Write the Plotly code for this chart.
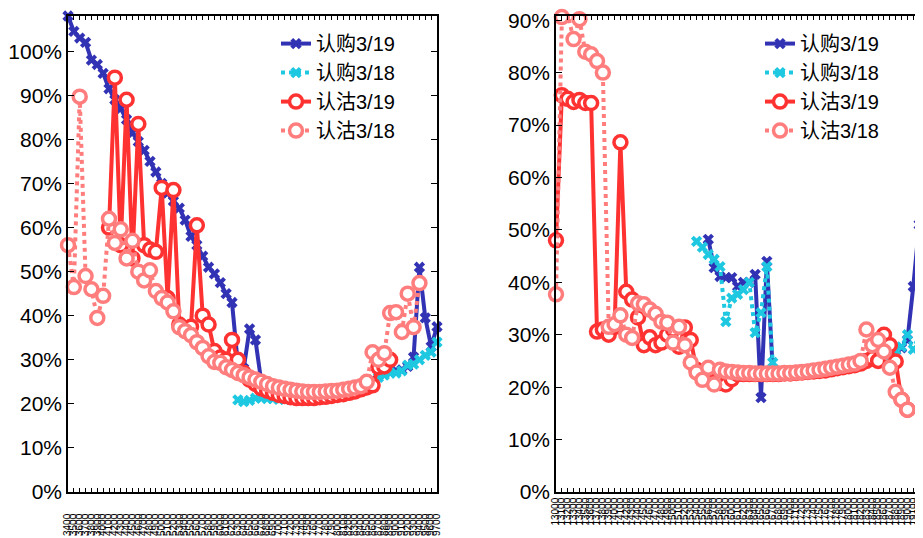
import plotly.graph_objects as go

# ---------------- data ----------------
strikes_left = ["3400","3500","3600","3700","3800","3900","4000","4100","4200","4300",
                "4400","4500","4600","4700","4800","4900","5000","5100","5200","5300",
                "5400","5500","5600","5700","5800","5900","6000","6100","6200","6300",
                "6400","6500","6600","6700","6800","6900","7000","7100","7200","7300",
                "7400","7500","7600","7700","7800","7900","8000","8100","8200","8300",
                "8400","8500","8600","8700","8800","8900","9000","9100","9200","9300",
                "9400","9500","9600","9700"]
strikes_right = ["13000","13100","13200","13300","13400","13500","13600","13700","13800","13900",
                 "14000","14100","14200","14300","14400","14500","14600","14700","14800","14900",
                 "15000","15100","15200","15300","15400","15500","15600","15700","15800","15900",
                 "16000","16100","16200","16300","16400","16500","16600","16700","16800","16900",
                 "17000","17100","17200","17300","17400","17500","17600","17700","17800","17900",
                 "18000","18100","18200","18300","18400","18500","18600","18700","18800","18900",
                 "19000","19100","19200","19300"]

N = None
call_0319_L = [1.08,1.045,1.03,1.02,0.98,0.97,0.95,0.915,0.89,0.87,0.845,0.815,0.795,0.775,0.75,0.726,
               0.70,0.678,0.66,0.644,0.617,0.58,0.56,0.535,0.51,0.495,0.475,0.45,0.43,0.29,0.28,0.37,
               0.345,0.25,0.235,0.225,0.22,0.22,0.218,0.215,0.215,0.213,0.215,0.215,0.218,0.22,0.223,0.225,
               0.23,0.233,0.24,0.245,0.255,0.265,0.27,0.275,0.275,0.277,0.285,0.306,0.51,0.395,0.33,0.375]
call_0318_L = [N]*29 + [0.209,0.205,0.208,0.213,0.213,0.212,0.212,0.21,0.21,0.21,0.21,0.21,0.21,0.211,
               0.212,0.214,0.216,0.22,0.223,0.226,0.23,0.235,0.24,0.25,0.26,0.265,0.27,0.27,0.275,0.288,
               0.29,0.30,0.31,0.317,0.34]
put_0319_L = [N]*7 + [0.60,0.94,0.56,0.89,0.53,0.835,0.56,0.55,0.545,0.69,0.44,0.685,0.38,0.37,0.375,
              0.605,0.40,0.38,0.32,0.305,0.30,0.345,0.30,0.27,0.255,0.245,0.235,0.23,0.225,0.22,0.218,
              0.215,0.213,0.213,0.213,0.213,0.215,0.216,0.218,0.22,0.222,0.225,0.228,0.233,0.237,0.242,
              0.283,0.285,0.30] + [N]*8
put_0318_L = [0.56,0.465,0.897,0.49,0.46,0.395,0.445,0.62,0.565,0.596,0.53,0.57,0.50,0.48,0.503,0.456,
              0.44,0.43,0.41,0.374,0.365,0.356,0.34,0.327,0.308,0.295,0.293,0.283,0.277,0.27,0.265,0.26,
              0.255,0.25,0.245,0.24,0.237,0.234,0.232,0.23,0.228,0.227,0.227,0.227,0.228,0.229,0.23,0.232,
              0.234,0.237,0.24,0.25,0.317,0.30,0.315,0.406,0.408,0.363,0.45,0.374,0.474,N,N,N]

call_0319_R = [N]*26 + [0.482,0.428,0.411,0.409,0.409,0.392,0.40,0.40,0.415,0.18,0.44,0.235,
               0.228,0.228,0.228,0.228,0.229,0.23,0.231,0.232,0.234,0.236,0.238,0.24,0.242,0.245,
               0.25,0.255,0.26,0.262,0.265,0.268,0.27,0.275,0.29,0.392,0.51,0.56]
call_0318_R = [N]*24 + [0.478,0.467,0.453,0.444,0.43,0.325,0.37,0.377,0.386,0.40,0.304,0.342,0.43,0.247,
               0.23,0.229,0.229,0.229,0.229,0.23,0.231,0.232,0.233,0.235,0.237,0.239,0.241,0.243,
               0.245,0.247,0.25,0.25,0.25,0.26,0.27,0.277,0.30,0.272,0.28,0.285]
put_0319_R = [0.48,0.757,0.75,0.744,0.748,0.742,0.742,0.306,0.31,0.30,0.315,0.667,0.382,0.367,0.333,0.28,
              0.295,0.28,0.285,0.30,0.31,0.277,0.314,0.29,0.233,0.22,0.215,0.21,0.208,0.205,0.215,0.225,
              0.225,0.225,0.225,0.225,0.225,0.225,0.225,0.226,0.226,0.227,0.228,0.229,0.23,0.231,0.232,
              0.234,0.236,0.238,0.24,0.242,0.245,0.25,0.255,0.25,0.30,0.28,0.249,0.176,0.157,N,N,N]
put_0318_R = [0.377,0.906,0.91,0.864,0.902,0.84,0.835,0.822,0.80,0.315,0.32,0.337,0.30,0.294,0.36,0.358,
              0.348,0.34,0.325,0.323,0.285,0.315,0.28,0.247,0.228,0.214,0.237,0.205,0.233,0.23,0.229,
              0.228,0.227,0.227,0.226,0.226,0.226,0.226,0.226,0.227,0.227,0.228,0.229,0.23,0.232,0.233,
              0.235,0.237,0.239,0.241,0.243,0.245,0.25,0.31,0.28,0.29,0.268,0.237,0.191,0.176,0.157,N,N,N]

names = ["认购3/19", "认购3/18", "认沽3/19", "认沽3/18"]
colors = ["#3232b4", "#1ec8e1", "#ff3232", "#ff7d7d"]
dashes = ["solid", "dot", "solid", "dot"]

FONT = "Liberation Sans, Arial, Noto Sans CJK SC, sans-serif"

fig = go.Figure()

def add_series(x, y, k, xa, ya, legend):
    if k < 2:
        marker = dict(symbol="x", size=10, color=colors[k], line=dict(width=0))
    else:
        marker = dict(symbol="circle", size=13, color="white", line=dict(color=colors[k], width=3.5))
    fig.add_trace(go.Scatter(
        x=x, y=y, name=names[k], mode="lines+markers",
        line=dict(color=colors[k], width=4, dash=dashes[k]),
        marker=marker, connectgaps=False, cliponaxis=False,
        xaxis=xa, yaxis=ya, legend=legend))

for k, ys in enumerate([call_0319_L, call_0318_L, put_0319_L, put_0318_L]):
    add_series(strikes_left, ys, k, "x", "y", "legend")
for k, ys in enumerate([call_0319_R, call_0318_R, put_0319_R, put_0318_R]):
    add_series(strikes_right, ys, k, "x2", "y2", "legend2")

# the page body adds an 8px offset, so the figure is 8px smaller than the window
W, H = 915, 530
xaxis_common = dict(type="category", ticks="inside", ticklen=4, tickwidth=1, tickcolor="black",
                    showline=True, linecolor="black", linewidth=1.5, mirror="ticks",
                    showgrid=False, zeroline=False, tickangle=-90, automargin=False,
                    tickfont=dict(size=10, family=FONT, color="black"))
yaxis_common = dict(tickformat=".0%", dtick=0.1, tick0=0, ticks="inside", ticklen=6, tickwidth=1,
                    tickcolor="black", showline=True, linecolor="black", linewidth=1.5,
                    mirror="ticks", showgrid=False, zeroline=False, automargin=False,
                    tickfont=dict(size=21, family=FONT, color="black"))

fig.update_layout(
    width=W, height=H,
    margin=dict(l=0, r=0, t=8, b=46, autoexpand=False),
    paper_bgcolor="white", plot_bgcolor="white",
    font=dict(family=FONT, color="black"),
    xaxis=dict(xaxis_common, domain=[60 / W, 429 / W], range=[0, 63],
               tickmode="array", tickvals=strikes_left, ticktext=strikes_left, anchor="y",
               ticklabelstandoff=16),
    yaxis=dict(yaxis_common, range=[0, 1.08], anchor="x"),
    xaxis2=dict(xaxis_common, domain=[548 / W, 1.0], range=[0, 62.66],
                tickmode="array", tickvals=strikes_right, ticktext=strikes_right, anchor="y2",
                ticklabelstandoff=0),
    yaxis2=dict(yaxis_common, range=[0, 0.908], anchor="x2"),
    legend=dict(x=268 / W, y=1 - 9 / H, xanchor="left", yanchor="top",
                bgcolor="rgba(0,0,0,0)", font=dict(size=20, family=FONT, color="black"),
                tracegroupgap=0, itemwidth=30),
    legend2=dict(x=752 / W, y=1 - 9 / H, xanchor="left", yanchor="top",
                 bgcolor="rgba(0,0,0,0)", font=dict(size=20, family=FONT, color="black"),
                 tracegroupgap=0, itemwidth=30),
    showlegend=True,
)

fig.write_html("out.html")
